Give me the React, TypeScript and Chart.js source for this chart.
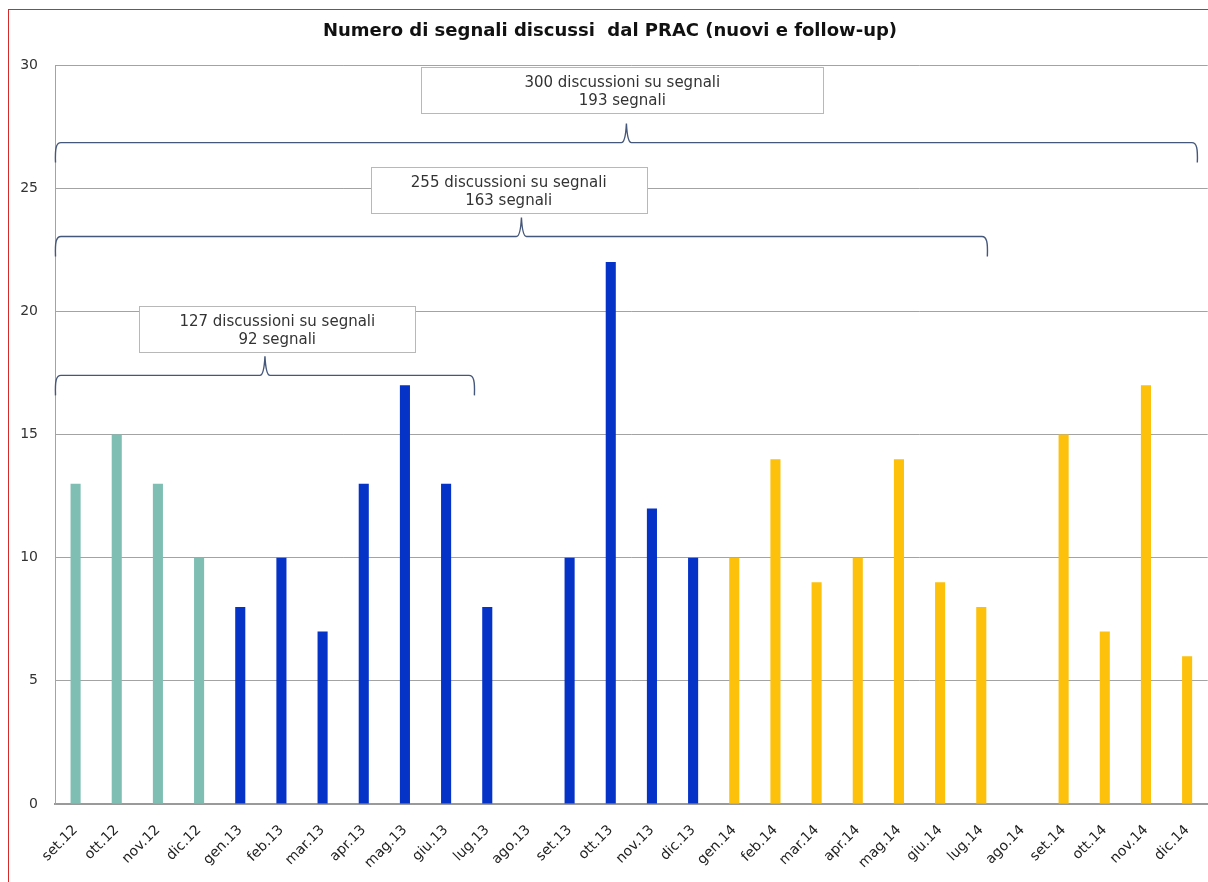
import React, { useEffect, useRef } from "react";
import { Chart, registerables } from "chart.js";

Chart.register(...registerables);

const TITLE = "Numero di segnali discussi  dal PRAC (nuovi e follow-up)";

const CATEGORIES = [
  "set.12", "ott.12", "nov.12", "dic.12",
  "gen.13", "feb.13", "mar.13", "apr.13", "mag.13", "giu.13", "lug.13", "ago.13", "set.13", "ott.13", "nov.13", "dic.13",
  "gen.14", "feb.14", "mar.14", "apr.14", "mag.14", "giu.14", "lug.14", "ago.14", "set.14", "ott.14", "nov.14", "dic.14",
];

const VALUES = [
  13, 15, 13, 10,
  8, 10, 7, 13, 17, 13, 8, 0, 10, 22, 12, 10,
  10, 14, 9, 10, 14, 9, 8, 0, 15, 7, 17, 6,
];

const Y_TICKS = [0, 5, 10, 15, 20, 25, 30];

// Annotation (brace) spans in category-index units, levels in value units
const BRACE_START = [-0.5, -0.5, -0.5];
const BRACE_END = [9.7, 22.16, 27.26];
const BRACE_LEVEL = [17.4, 23.04, 26.85];

const BOX_LINE1 = ["127 discussioni su segnali", "255 discussioni su segnali", "300 discussioni su segnali"];
const BOX_LINE2 = ["92 segnali", "163 segnali", "193 segnali"];
const BOX_X = [4.9, 10.52, 13.28];
const BOX_Y = [19.27, 24.93, 28.98];

// styles
const BOX_W = [276, 276, 402];
const BOX_H = 46;
const YEAR_COLORS: Record<string, string> = {
  "12": "#7fbfb3",
  "13": "#0533c8",
  "14": "#fdc10c",
};
const FONT = "'DejaVu Sans', Verdana, sans-serif";
const TITLE_X = 601;
const TITLE_Y = 21;

const annotationPlugin = {
  id: "annotations",
  afterDatasetsDraw(chart: any) {
    const ctx = chart.ctx as CanvasRenderingContext2D;
    const xs = chart.scales.x;
    const ys = chart.scales.y;
    ctx.save();
    // braces
    ctx.strokeStyle = "#45577a";
    ctx.lineWidth = 1.4;
    const depth = 20;
    const cusp = 19;
    for (let i = 0; i < BRACE_LEVEL.length; i++) {
      const x1 = xs.getPixelForValue(BRACE_START[i]);
      const x2 = xs.getPixelForValue(BRACE_END[i]);
      const y = ys.getPixelForValue(BRACE_LEVEL[i]);
      const xm = (x1 + x2) / 2;
      ctx.beginPath();
      ctx.moveTo(x1 + 0.5, y + depth);
      ctx.bezierCurveTo(x1, y + 6, x1 + 1, y, x1 + 6, y);
      ctx.lineTo(xm - 5, y);
      ctx.quadraticCurveTo(xm - 1, y, xm, y - cusp);
      ctx.quadraticCurveTo(xm + 1, y, xm + 5, y);
      ctx.lineTo(x2 - 6, y);
      ctx.bezierCurveTo(x2 - 1, y, x2, y + 6, x2 - 0.5, y + depth);
      ctx.stroke();
    }
    // boxes
    ctx.font = `15px ${FONT}`;
    ctx.textAlign = "center";
    ctx.textBaseline = "middle";
    for (let i = 0; i < BOX_LINE1.length; i++) {
      const cx = xs.getPixelForValue(BOX_X[i]);
      const cy = ys.getPixelForValue(BOX_Y[i]);
      const w = BOX_W[i];
      const left = Math.round(cx - w / 2) + 0.5;
      const top = Math.round(cy - BOX_H / 2) + 0.5;
      ctx.fillStyle = "#ffffff";
      ctx.fillRect(left, top, w, BOX_H);
      ctx.strokeStyle = "#b8b8b8";
      ctx.lineWidth = 1;
      ctx.strokeRect(left, top, w, BOX_H);
      ctx.fillStyle = "#333333";
      ctx.fillText(BOX_LINE1[i], cx, cy - 7);
      ctx.fillText(BOX_LINE2[i], cx, cy + 11);
    }
    // title
    ctx.font = `bold 18px ${FONT}`;
    ctx.fillStyle = "#111111";
    ctx.fillText(TITLE, TITLE_X, TITLE_Y);
    ctx.restore();
  },
};

export default function App() {
  const ref = useRef<HTMLCanvasElement | null>(null);
  useEffect(() => {
    if (!ref.current) return;
    const colors = CATEGORIES.map((c) => YEAR_COLORS[c.split(".")[1]]);
    const chart = new Chart(ref.current, {
      type: "bar",
      data: {
        labels: CATEGORIES,
        datasets: [
          {
            data: VALUES,
            backgroundColor: colors,
            borderWidth: 0,
            barPercentage: 0.245,
            categoryPercentage: 1,
          },
        ],
      },
      options: {
        animation: false,
        responsive: false,
        devicePixelRatio: 1,
        layout: { padding: { top: 55, left: 0, right: 0, bottom: 0 } },
        plugins: {
          legend: { display: false },
          title: { display: false },
          tooltip: { enabled: false },
        },
        scales: {
          x: {
            afterFit: (s: any) => {
              s.height = 78;
            },
            grid: { display: false, drawTicks: false },
            border: { display: true, color: "#9a9a9a", width: 2 },
            ticks: {
              minRotation: 45,
              maxRotation: 45,
              autoSkip: false,
              padding: 18,
              color: "#222222",
              font: { family: FONT, size: 14 },
            },
          },
          y: {
            min: 0,
            max: 30,
            afterFit: (s: any) => {
              s.width = 46;
            },
            afterBuildTicks: (s: any) => {
              s.ticks = Y_TICKS.map((v) => ({ value: v }));
            },
            grid: { color: "#a3a3a3", lineWidth: 1, drawTicks: false },
            border: { display: true, color: "#a3a3a3", width: 1 },
            ticks: {
              padding: 17,
              color: "#333333",
              font: { family: FONT, size: 14 },
            },
          },
        },
      },
      plugins: [annotationPlugin],
    });
    return () => chart.destroy();
  }, []);

  return (
    <div
      style={{
        position: "fixed",
        left: 8,
        top: 9,
        width: 1200,
        height: 873,
        borderLeft: "1px solid #d42a2a",
        borderTop: "1px solid #d42a2a",
        background: "#ffffff",
        overflow: "hidden",
      }}
    >
      <canvas ref={ref} width={1208} height={872} style={{ display: "block", width: 1208, height: 872 }} />
    </div>
  );
}
